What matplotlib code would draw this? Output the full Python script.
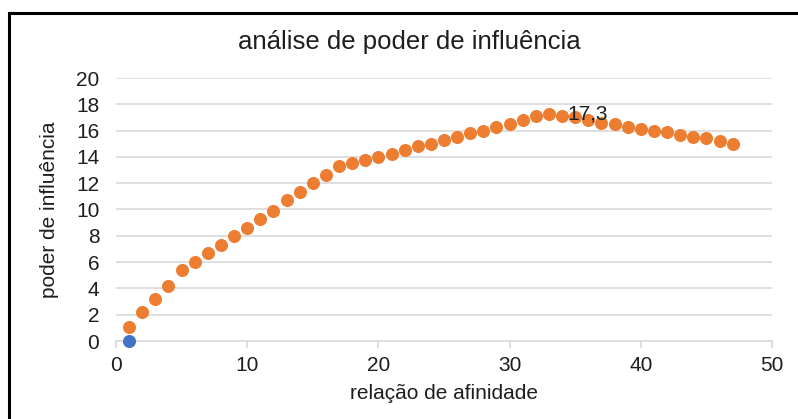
import matplotlib.pyplot as plt
from matplotlib.patches import Rectangle

plt.rcParams['font.family'] = ['Liberation Sans', 'DejaVu Sans']

# afinidade x poder (orange series) and the single blue point
afinidade = list(range(1, 48))
poder = [1.1, 2.2, 3.2, 4.2, 5.4, 6.0, 6.7, 7.3, 8.0, 8.6, 9.3, 9.9, 10.7, 11.3,
         12.0, 12.6, 13.3, 13.5, 13.8, 14.0, 14.2, 14.5, 14.8, 15.0, 15.3, 15.5,
         15.8, 16.0, 16.3, 16.5, 16.8, 17.1, 17.3, 17.1, 17.0, 16.8, 16.6, 16.5,
         16.3, 16.1, 16.0, 15.9, 15.7, 15.5, 15.4, 15.2, 15.0]
origem_x = [1]
origem_y = [0]

ORANGE = "#ED7D31"
BLUE = "#4472C4"
GRID = "#d9d9d9"
TXT = "#1e1e1e"

fig = plt.figure(figsize=(7.98, 4.19), dpi=100)
ax = fig.add_axes([116 / 798, 1 - 341 / 419, (772 - 116) / 798, (341 - 78) / 419])

ax.plot(afinidade, poder, "o", color=ORANGE, ms=9.4, mec="none", clip_on=False, zorder=3)
ax.plot(origem_x, origem_y, "o", color=BLUE, ms=9.4, mec="none", clip_on=False, zorder=4)

# label on the max point
i_max = poder.index(max(poder))
ax.annotate(f"{poder[i_max]:.1f}".replace(".", ","), (afinidade[i_max], poder[i_max]),
            xytext=(13, 0), textcoords="offset points", ha="left", va="center",
            fontsize=15, color=TXT, zorder=5)

ax.set_xlim(0, 50)
ax.set_ylim(0, 20)
ax.set_xticks(range(0, 51, 10))
ax.set_yticks(range(0, 21, 2))
ax.grid(axis="y", color=GRID, lw=1.2)
ax.set_axisbelow(True)
for s in ["top", "right", "left"]:
    ax.spines[s].set_visible(False)
ax.spines["bottom"].set_color(GRID)
ax.spines["bottom"].set_linewidth(1.2)
ax.tick_params(axis="x", length=5, color=GRID, width=1.2, labelsize=15,
               labelcolor=TXT, pad=6)
ax.tick_params(axis="y", length=0, labelsize=15, labelcolor=TXT, pad=12)

ax.set_xlabel("relação de afinidade", fontsize=15, color=TXT, labelpad=6)
ax.set_ylabel("poder de influência", fontsize=15, color=TXT, labelpad=12)
fig.text(409 / 798, 1 - 42 / 419, "análise de poder de influência", ha="center",
         va="center", fontsize=18.5, color=TXT)

# chart frame (only left and top edges show in the crop)
fig.patches.append(Rectangle((9 / 798, -0.2), 1.2, 1.2 + (1 - 13 / 419) - 1,
                             transform=fig.transFigure, fill=False,
                             edgecolor="black", lw=2.2))

fig.savefig("out.png", dpi=100)
